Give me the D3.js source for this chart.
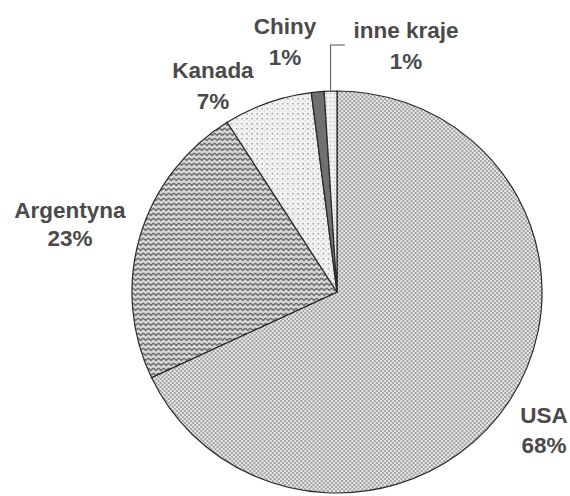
<!DOCTYPE html>
<html>
<head>
<meta charset="utf-8">
<script src="https://cdn.jsdelivr.net/npm/d3@7"></script>
<style>
  body { margin: 0; background: #fff; }
  text { font-family: "Liberation Sans", Arial, sans-serif; font-weight: bold; fill: #4a4a4a; }
</style>
</head>
<body>
<svg width="570" height="496"></svg>
<script>
// data
var countries = ["USA", "Argentyna", "Kanada", "Chiny", "inne kraje"];
var shares = [68, 23, 7, 1, 1];
var shareLabels = ["68%", "23%", "7%", "1%", "1%"];

var cx = 337, cy = 292, radius = 201;

var svg = d3.select("svg");
var defs = svg.append("defs");

// grey fill patterns, like a scanned print
function addPattern(id, w, h, bg, draw) {
  var p = defs.append("pattern")
    .attr("id", id)
    .attr("patternUnits", "userSpaceOnUse")
    .attr("width", w).attr("height", h);
  p.append("rect").attr("width", w).attr("height", h).attr("fill", bg);
  draw(p);
}
addPattern("pUsa", 4, 4, "#e8e8e8", function (p) {
  p.append("rect").attr("x", 0).attr("y", 0).attr("width", 2).attr("height", 2).attr("fill", "#a4a4a4");
  p.append("rect").attr("x", 2).attr("y", 2).attr("width", 2).attr("height", 2).attr("fill", "#a4a4a4");
});
addPattern("pArg", 5, 5, "#d8d8d8", function (p) {
  p.append("path").attr("d", "M0,1 L2.5,3.5 L5,1").attr("stroke", "#6a6a6a").attr("stroke-width", 1.4).attr("fill", "none");
});
addPattern("pKan", 5, 5, "#f2f2f2", function (p) {
  p.append("rect").attr("x", 1).attr("y", 1).attr("width", 1.5).attr("height", 1.5).attr("fill", "#a0a0a0");
  p.append("rect").attr("x", 3.5).attr("y", 3.5).attr("width", 1).attr("height", 1).attr("fill", "#bbbbbb");
});
addPattern("pInne", 4, 4, "#f0f0f0", function (p) {
  p.append("rect").attr("x", 1).attr("y", 1).attr("width", 1.2).attr("height", 1.2).attr("fill", "#a8a8a8");
});

var fills = ["url(#pUsa)", "url(#pArg)", "url(#pKan)", "#707070", "url(#pInne)"];

var g = svg.append("g")
  .attr("transform", "translate(" + cx + "," + cy + ") scale(1.02,1)");

var pie = d3.pie().sort(null).value(function (d) { return d; });
var arc = d3.arc().innerRadius(0).outerRadius(radius);
var arcs = pie(shares);

g.selectAll("path.slice")
  .data(arcs)
  .enter().append("path")
  .attr("class", "slice")
  .attr("d", arc)
  .attr("fill", function (d, i) { return fills[i]; })
  .attr("stroke", "#2a2a2a")
  .attr("stroke-width", 1.2);

// leader line for "inne kraje"
var a = arcs[4];
var mid = (a.startAngle + a.endAngle) / 2;
var px = Math.sin(mid) * radius, py = -Math.cos(mid) * radius;
g.append("path")
  .attr("d", "M" + px + "," + py + " L" + px + "," + (py - 46) + " L" + (px + 14) + "," + (py - 46))
  .attr("fill", "none")
  .attr("stroke", "#555")
  .attr("stroke-width", 1);

// label anchors: centre x, first baseline, second baseline (page px)
var labelPos = [
  [544, 423, 453],  // USA
  [70, 218, 246],   // Argentyna
  [213, 78, 109],   // Kanada
  [285, 34, 65],    // Chiny
  [406, 38, 69]     // inne kraje
];

var labels = svg.selectAll("g.lab")
  .data(arcs)
  .enter().append("g")
  .attr("class", "lab");

labels.append("text")
  .attr("x", function (d, i) { return labelPos[i][0]; })
  .attr("y", function (d, i) { return labelPos[i][1]; })
  .attr("text-anchor", "middle")
  .style("font-size", "22.5px")
  .text(function (d, i) { return countries[i]; });
labels.append("text")
  .attr("x", function (d, i) { return labelPos[i][0]; })
  .attr("y", function (d, i) { return labelPos[i][2]; })
  .attr("text-anchor", "middle")
  .style("font-size", "22.5px")
  .text(function (d, i) { return shareLabels[i]; });
</script>
</body>
</html>
